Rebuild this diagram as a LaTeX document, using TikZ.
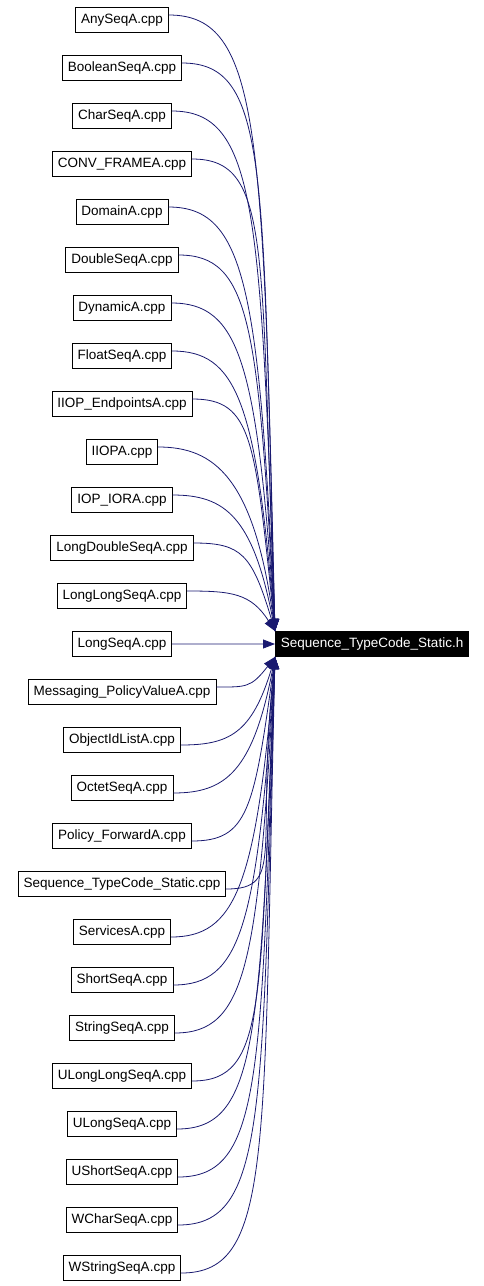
\documentclass[tikz,border=0pt]{standalone}
\usepackage{fontspec}
\setmainfont{Liberation Sans}
\usepackage{xcolor}
\usepackage{tikz}
\usetikzlibrary{arrows.meta,positioning}

\definecolor{edgeblue}{HTML}{191970}

\begin{document}
\begin{tikzpicture}[
  x=1pt,y=-1pt,
  node distance=22.2pt,
  file/.style={rectangle,draw=black,line width=0.8pt,minimum height=25pt,inner xsep=5.5pt,inner ysep=2pt,font=\fontsize{13.5}{16}\selectfont},
  hfile/.style={file,fill=black,text=white},
  arrow/.style={-{Triangle[length=12pt,width=9pt]},draw=edgeblue,line width=0.8pt},
]
\useasboundingbox (0,0) rectangle (483,1286);

\node[file] (anyseq) at (122,20) {AnySeqA.cpp};
\node[file,below=of anyseq] (booleanseq) {BooleanSeqA.cpp};
\node[file,below=of booleanseq] (charseq) {CharSeqA.cpp};
\node[file,below=of charseq] (convframe) {CONV\_FRAMEA.cpp};
\node[file,below=of convframe] (domain) {DomainA.cpp};
\node[file,below=of domain] (doubleseq) {DoubleSeqA.cpp};
\node[file,below=of doubleseq] (dynamic) {DynamicA.cpp};
\node[file,below=of dynamic] (floatseq) {FloatSeqA.cpp};
\node[file,below=of floatseq] (iiopendpoints) {IIOP\_EndpointsA.cpp};
\node[file,below=of iiopendpoints] (iiop) {IIOPA.cpp};
\node[file,below=of iiop] (iopiora) {IOP\_IORA.cpp};
\node[file,below=of iopiora] (longdoubleseq) {LongDoubleSeqA.cpp};
\node[file,below=of longdoubleseq] (longlongseq) {LongLongSeqA.cpp};
\node[file,below=of longlongseq] (longseq) {LongSeqA.cpp};
\node[file,below=of longseq] (messagingpv) {Messaging\_PolicyValueA.cpp};
\node[file,below=of messagingpv] (objectidlist) {ObjectIdListA.cpp};
\node[file,below=of objectidlist] (octetseq) {OctetSeqA.cpp};
\node[file,below=of octetseq] (policyfwd) {Policy\_ForwardA.cpp};
\node[file,below=of policyfwd] (seqtcstatic) {Sequence\_TypeCode\_Static.cpp};
\node[file,below=of seqtcstatic] (services) {ServicesA.cpp};
\node[file,below=of services] (shortseq) {ShortSeqA.cpp};
\node[file,below=of shortseq] (stringseq) {StringSeqA.cpp};
\node[file,below=of stringseq] (ulonglongseq) {ULongLongSeqA.cpp};
\node[file,below=of ulonglongseq] (ulongseq) {ULongSeqA.cpp};
\node[file,below=of ulongseq] (ushortseq) {UShortSeqA.cpp};
\node[file,below=of ushortseq] (wcharseq) {WCharSeqA.cpp};
\node[file,below=of wcharseq] (wstringseq) {WStringSeqA.cpp};

\node[hfile,anchor=west] (seqh) at (275,644) {Sequence\_TypeCode\_Static.h};

% files above the header
\draw[arrow] ([yshift=5pt]anyseq.east) .. controls +(92,0) and +(-12,-499) .. (seqh.north west);
\draw[arrow] ([yshift=5pt]booleanseq.east) .. controls +(88,0) and +(-13,-461) .. (seqh.north west);
\draw[arrow] ([yshift=5pt]charseq.east) .. controls +(84,0) and +(-14,-422) .. (seqh.north west);
\draw[arrow] ([yshift=5pt]convframe.east) .. controls +(80,0) and +(-15,-384) .. (seqh.north west);
\draw[arrow] ([yshift=5pt]domain.east) .. controls +(76,0) and +(-16,-346) .. (seqh.north west);
\draw[arrow] ([yshift=5pt]doubleseq.east) .. controls +(72,0) and +(-17,-307) .. (seqh.north west);
\draw[arrow] ([yshift=5pt]dynamic.east) .. controls +(68,0) and +(-18,-269) .. (seqh.north west);
\draw[arrow] ([yshift=5pt]floatseq.east) .. controls +(64,0) and +(-19,-230) .. (seqh.north west);
\draw[arrow] ([yshift=5pt]iiopendpoints.east) .. controls +(60,0) and +(-20,-192) .. (seqh.north west);
\draw[arrow] ([yshift=5pt]iiop.east) .. controls +(56,0) and +(-21,-154) .. (seqh.north west);
\draw[arrow] ([yshift=5pt]iopiora.east) .. controls +(52,0) and +(-22,-115) .. (seqh.north west);
\draw[arrow] ([yshift=5pt]longdoubleseq.east) .. controls +(48,0) and +(-23,-77) .. (seqh.north west);
\draw[arrow] ([yshift=5pt]longlongseq.east) .. controls +(44,0) and +(-24,-38) .. (seqh.north west);
\draw[arrow] (longseq.east) -- (seqh.west);
% files below the header
\draw[arrow] ([yshift=5pt]messagingpv.east) .. controls +(30,0) and +(-24,31) .. (seqh.south west);
\draw[arrow] ([yshift=-5pt]objectidlist.east) .. controls +(48,0) and +(-23,77) .. (seqh.south west);
\draw[arrow] ([yshift=-5pt]octetseq.east) .. controls +(52,0) and +(-22,115) .. (seqh.south west);
\draw[arrow] ([yshift=-5pt]policyfwd.east) .. controls +(56,0) and +(-21,154) .. (seqh.south west);
\draw[arrow] ([yshift=-5pt]seqtcstatic.east) .. controls +(60,0) and +(-20,192) .. (seqh.south west);
\draw[arrow] ([yshift=-5pt]services.east) .. controls +(64,0) and +(-19,230) .. (seqh.south west);
\draw[arrow] ([yshift=-5pt]shortseq.east) .. controls +(68,0) and +(-18,269) .. (seqh.south west);
\draw[arrow] ([yshift=-5pt]stringseq.east) .. controls +(72,0) and +(-17,307) .. (seqh.south west);
\draw[arrow] ([yshift=-5pt]ulonglongseq.east) .. controls +(76,0) and +(-16,346) .. (seqh.south west);
\draw[arrow] ([yshift=-5pt]ulongseq.east) .. controls +(80,0) and +(-15,384) .. (seqh.south west);
\draw[arrow] ([yshift=-5pt]ushortseq.east) .. controls +(84,0) and +(-14,422) .. (seqh.south west);
\draw[arrow] ([yshift=-5pt]wcharseq.east) .. controls +(88,0) and +(-13,461) .. (seqh.south west);
\draw[arrow] ([yshift=-5pt]wstringseq.east) .. controls +(92,0) and +(-12,499) .. (seqh.south west);
\end{tikzpicture}
\end{document}
